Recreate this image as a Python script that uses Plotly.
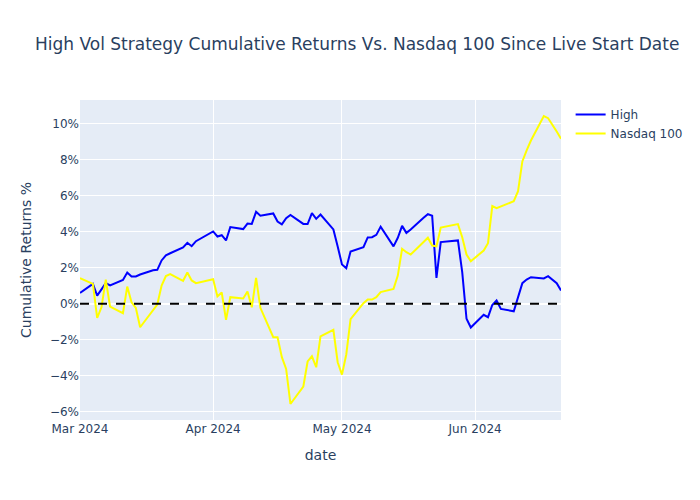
import plotly.graph_objects as go

dates = [
    "2024-03-01", "2024-03-04", "2024-03-05", "2024-03-06", "2024-03-07", "2024-03-08",
    "2024-03-11", "2024-03-12", "2024-03-13", "2024-03-14", "2024-03-15",
    "2024-03-18", "2024-03-19", "2024-03-20", "2024-03-21", "2024-03-22",
    "2024-03-25", "2024-03-26", "2024-03-27", "2024-03-28",
    "2024-04-01", "2024-04-02", "2024-04-03", "2024-04-04", "2024-04-05",
    "2024-04-08", "2024-04-09", "2024-04-10", "2024-04-11", "2024-04-12",
    "2024-04-15", "2024-04-16", "2024-04-17", "2024-04-18", "2024-04-19",
    "2024-04-22", "2024-04-23", "2024-04-24", "2024-04-25", "2024-04-26",
    "2024-04-29", "2024-04-30", "2024-05-01", "2024-05-02", "2024-05-03",
    "2024-05-06", "2024-05-07", "2024-05-08", "2024-05-09", "2024-05-10",
    "2024-05-13", "2024-05-14", "2024-05-15", "2024-05-16", "2024-05-17",
    "2024-05-20", "2024-05-21", "2024-05-22", "2024-05-23", "2024-05-24",
    "2024-05-28", "2024-05-29", "2024-05-30", "2024-05-31",
    "2024-06-03", "2024-06-04", "2024-06-05", "2024-06-06", "2024-06-07",
    "2024-06-10", "2024-06-11", "2024-06-12", "2024-06-13", "2024-06-14",
    "2024-06-17", "2024-06-18", "2024-06-20", "2024-06-21",
]

high = [
    0.61, 1.11, 0.46, 0.83, 1.15, 1.02,
    1.33, 1.74, 1.52, 1.52, 1.63,
    1.87, 1.89, 2.41, 2.69, 2.81,
    3.13, 3.39, 3.20, 3.48,
    4.02, 3.74, 3.81, 3.52, 4.26,
    4.15, 4.46, 4.44, 5.11, 4.89,
    5.02, 4.57, 4.41, 4.76, 4.94,
    4.44, 4.43, 5.04, 4.72, 4.96,
    4.13, 3.19, 2.19, 1.98, 2.91,
    3.15, 3.69, 3.70, 3.83, 4.28,
    3.19, 3.67, 4.33, 3.94, 4.13,
    4.78, 4.98, 4.89, 1.44, 3.43,
    3.52, 1.76, -0.83, -1.31,
    -0.61, -0.74, -0.06, 0.19, -0.28,
    -0.41, 0.37, 1.15, 1.35, 1.48,
    1.41, 1.54, 1.15, 0.74,
]

nasdaq = [
    1.43, 1.11, -0.78, -0.19, 1.35, -0.15,
    -0.52, 0.96, 0.09, -0.22, -1.30,
    -0.31, -0.04, 1.02, 1.54, 1.65,
    1.28, 1.74, 1.30, 1.15,
    1.37, 0.41, 0.63, -0.89, 0.37,
    0.30, 0.69, -0.19, 1.44, -0.22,
    -1.85, -1.85, -2.96, -3.61, -5.56,
    -4.59, -3.20, -2.91, -3.52, -1.81,
    -1.44, -3.24, -3.93, -2.81, -0.85,
    0.04, 0.24, 0.24, 0.37, 0.65,
    0.83, 1.57, 3.06, 2.87, 2.74,
    3.43, 3.67, 3.24, 3.19, 4.24,
    4.43, 3.70, 2.74, 2.37,
    2.96, 3.37, 5.43, 5.31, 5.41,
    5.70, 6.26, 7.91, 8.52, 9.07,
    10.43, 10.31, 9.57, 9.17,
]

fig = go.Figure()
fig.add_trace(go.Scatter(x=dates, y=high, mode="lines", name="High",
                         line=dict(color="blue", width=2)))
fig.add_trace(go.Scatter(x=dates, y=nasdaq, mode="lines", name="Nasdaq 100",
                         line=dict(color="yellow", width=2)))
fig.add_hline(y=0, line_dash="dash", line_color="black", line_width=2)

fig.update_layout(
    width=700, height=500,
    template="plotly",
    font=dict(family="DejaVu Sans"),
    title=dict(text="High Vol Strategy Cumulative Returns Vs. Nasdaq 100 Since Live Start Date"),
    xaxis_title="date",
    yaxis_title="Cumulative Returns %",
    yaxis=dict(ticksuffix="%", dtick=2),
)

fig.write_html("out.html", config={"displayModeBar": False},
               post_script="document.body.style.margin='0';")
